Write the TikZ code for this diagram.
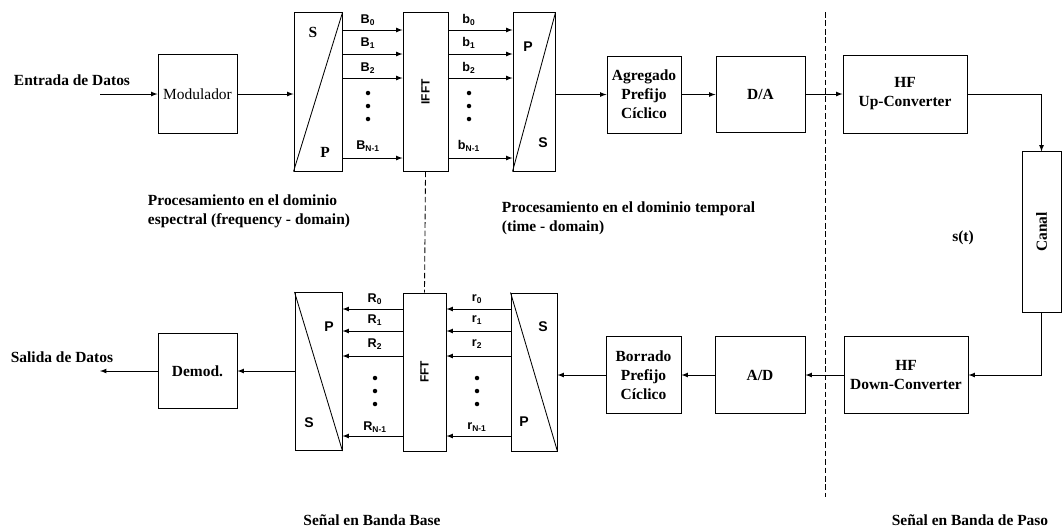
\documentclass[tikz,border=0pt]{standalone}
\usepackage{fontspec}
\setmainfont{Liberation Serif}
\setsansfont{Liberation Sans}
\usetikzlibrary{positioning}

\begin{document}
\begin{tikzpicture}[
    x=0.025cm, y=-0.025cm,
    box/.style={rectangle, draw, line width=0.7pt, align=center, inner sep=1pt,
      font=\fontsize{11}{13.5}\selectfont\bfseries},
    conv/.style={rectangle, draw, line width=0.7pt, minimum height=3.95cm},
    arrow/.style={->, >=latex, line width=0.6pt},
    bus/.style={font=\fontsize{9}{10}\selectfont\sffamily\bfseries, inner sep=0pt},
    letter/.style={font=\fontsize{10}{11}\selectfont\sffamily\bfseries},
    note/.style={font=\fontsize{11}{13.5}\selectfont\bfseries, align=left},
    divider/.style={dash pattern=on 4pt off 2pt, line width=0.6pt},
  ]
    \useasboundingbox (0,0) rectangle (1062,529);

    \node[box, minimum width=1.975cm, minimum height=1.975cm,
      font=\fontsize{11}{13.5}\selectfont] (mod) at (197.5,94) {Modulador};
    \node[conv, minimum width=1.2cm]   (sp1)  at (318,92)   {};
    \node[conv, minimum width=1.125cm] (ifft) at (425.5,92) {};
    \node[conv, minimum width=1.05cm]  (ps1)  at (534,92)   {};
    \node[box, minimum width=1.85cm, minimum height=1.925cm] (agr) at (644,94.5) {Agregado\\Prefijo\\Cíclico};
    \node[box, minimum width=2.225cm, minimum height=1.9cm] (da)   at (760.5,94) {D/A};
    \node[box, minimum width=3.1cm, minimum height=1.95cm]  (hfup) at (905,94)   {HF\\Up-Converter};
    \node[box, minimum width=0.975cm, minimum height=4cm]   (canal) at (1041.5,232) {};
    \node[box, minimum width=3.1cm, minimum height=1.925cm] (hfdown) at (906,375) {HF\\Down-Converter};
    \node[box, minimum width=2.25cm, minimum height=1.925cm] (ad)  at (760,375)   {A/D};
    \node[box, minimum width=1.875cm, minimum height=1.925cm] (bor) at (643.5,375) {Borrado\\Prefijo\\Cíclico};
    \node[conv, minimum width=1.15cm]  (sp2)  at (534,372)   {};
    \node[conv, minimum width=1.075cm] (fft)  at (424.5,372) {};
    \node[conv, minimum width=1.175cm] (ps2)  at (318.5,371.5) {};
    \node[box, minimum width=1.975cm, minimum height=1.875cm] (demod) at (197.5,371) {Demod.};

    \node[bus, rotate=90, font=\fontsize{8.5}{10}\selectfont\sffamily\bfseries] (iffttxt) at (ifft) {IFFT};
    \node[bus, rotate=90, font=\fontsize{8.5}{10}\selectfont\sffamily\bfseries] (ffttxt) at (fft) {FFT};
    \node[note, rotate=90] (canaltxt) at (canal) {Canal};

    \draw[line width=0.6pt] (sp1.south west) -- (sp1.north east);
    \draw[line width=0.6pt] (ps1.south west) -- (ps1.north east);
    \draw[line width=0.6pt] (sp2.north west) -- (sp2.south east);
    \draw[line width=0.6pt] (ps2.north west) -- (ps2.south east);

    \node[letter, font=\fontsize{11}{12}\selectfont\bfseries] (sp1s) at (313,32)  {S};
    \node[letter, font=\fontsize{11}{12}\selectfont\bfseries] (sp1p) at (325,152) {P};
    \node[letter] (ps1p) at (528,47)  {P};
    \node[letter] (ps1s) at (543,143) {S};
    \node[letter] (sp2s) at (543,327) {S};
    \node[letter] (sp2p) at (524,422) {P};
    \node[letter] (ps2p) at (329,327) {P};
    \node[letter] (ps2s) at (309,423) {S};

    \coordinate (in)  at (100,94);
    \coordinate (out) at (100,371);

    \draw[arrow] (in) -- (mod);
    \draw[arrow] (mod.east) -- (mod.east -| sp1.west);
    \foreach \y in {30,54,78,158} {
      \draw[arrow] (sp1.east |- 0,\y) -- (ifft.west |- 0,\y);
      \draw[arrow] (ifft.east |- 0,\y) -- (ps1.west |- 0,\y);
    }
    \draw[arrow] (ps1.east |- agr.west) -- (agr.west);
    \draw[arrow] (agr.east) -- (agr.east -| da.west);
    \draw[arrow] (da) -- (hfup);
    \draw[arrow] (hfup.east) -| (canal.north);
    \draw[arrow] (canal.south) |- (hfdown.east);
    \draw[arrow] (hfdown) -- (ad);
    \draw[arrow] (ad) -- (bor);
    \draw[arrow] (bor.west) -- (bor.west -| sp2.east);
    \foreach \y in {309,331,356,436} {
      \draw[arrow] (sp2.west |- 0,\y) -- (fft.east |- 0,\y);
      \draw[arrow] (fft.west |- 0,\y) -- (ps2.east |- 0,\y);
    }
    \draw[arrow] (ps2.west |- demod.east) -- (demod.east);
    \draw[arrow] (demod) -- (out);

    \foreach \i/\s/\y in {0/0/20, 1/1/43, 2/2/68, 3/{N-1}/146} {
      \node[bus] (bigb\i) at (368,\y) {B\textsubscript{\s}};
      \node[bus] (smallb\i) at (469,\y) {b\textsubscript{\s}};
    }
    \foreach \i/\s/\y in {0/0/299, 1/1/320, 2/2/344, 3/{N-1}/427} {
      \node[bus] (smallr\i) at (477,\y) {r\textsubscript{\s}};
      \node[bus] (bigr\i) at (375,\y) {R\textsubscript{\s}};
    }
    \foreach \y in {93,106,119} {
      \fill (368,\y) circle (1.6pt);
      \fill (469,\y) circle (1.6pt);
    }
    \foreach \y in {378,391,404} {
      \fill (375,\y) circle (1.6pt);
      \fill (477,\y) circle (1.6pt);
    }

    \draw[divider] (ifft.south) -- (fft.north);
    \coordinate (divtop) at (825,12);
    \coordinate (divbot) at (825,497);
    \draw[divider] (divtop) -- (divbot);

    \node[note] (entrada) at (72,80)  {Entrada de Datos};
    \node[note] (salida)  at (62,357) {Salida de Datos};
    \node[note, anchor=west] (espectral) at (143,211) {Procesamiento en el dominio\\espectral (frequency - domain)};
    \node[note, anchor=west] (temporal)  at (497,218) {Procesamiento en el dominio temporal\\(time - domain)};
    \node[note] (senal) at (963,238) {s(t)};
    \node[note] (base)  at (372,520) {Señal en Banda Base};
    \node[note] (paso)  at (970,520) {Señal en Banda de Paso};
  \end{tikzpicture}
\end{document}
